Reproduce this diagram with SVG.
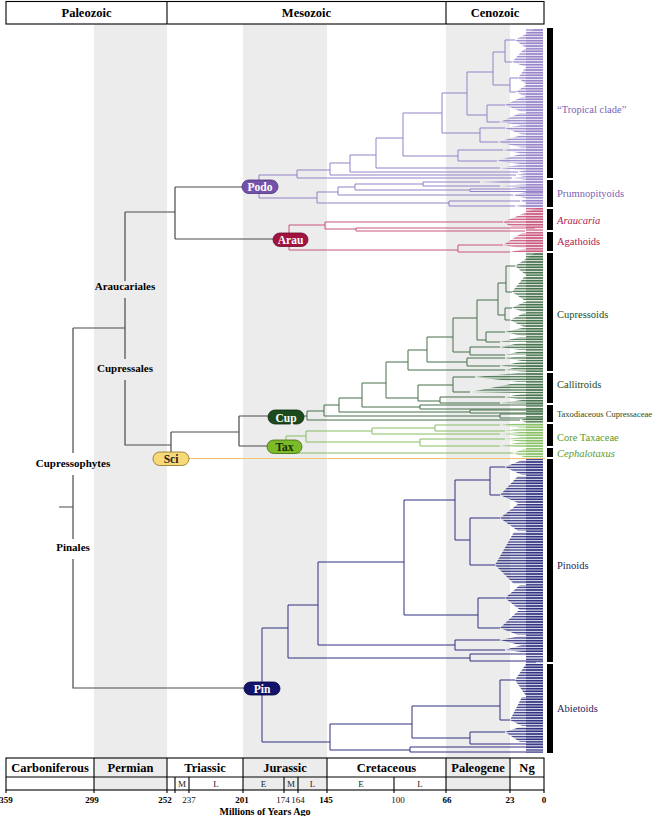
<svg xmlns="http://www.w3.org/2000/svg" width="653" height="816" viewBox="0 0 653 816">
<style>
text{font-family:'Liberation Serif','Times New Roman',serif}
.hd{font-size:12.5px;font-weight:bold;text-anchor:middle;fill:#000}
.sub{font-size:9px;text-anchor:middle;fill:#222}
.num{font-size:9px;text-anchor:middle;fill:#111}
.numb{font-size:9px;font-weight:bold;text-anchor:middle;fill:#000}
.cl{font-size:11px;font-weight:bold;text-anchor:middle;fill:#000}
.lab{font-size:10.5px}
.bt{font-size:11.5px;font-weight:bold;text-anchor:middle}
.band{fill:#ececec}
.grid{stroke:#000;stroke-width:1.1;fill:none}
.bb{stroke:#4a4a4a;stroke-width:1.2;fill:none}
.tp{stroke:#9481c8;stroke-width:1;fill:none}
.ta{stroke:#c8557a;stroke-width:1;fill:none}
.tc{stroke:#44704a;stroke-width:1;fill:none}
.tt{stroke:#86be62;stroke-width:1;fill:none}
.tn{stroke:#2e2e80;stroke-width:1;fill:none}
.fp{fill:url(#sp)}
.fa{fill:url(#sa)}
.fc{fill:url(#sc)}
.ft{fill:url(#st)}
.fn{fill:url(#sn)}
.bar{fill:#000}
</style>
<defs>
<pattern id="sp" width="8" height="1.6" patternUnits="userSpaceOnUse"><rect width="8" height="0.8" fill="#9481c8"/></pattern>
<pattern id="sa" width="8" height="1.6" patternUnits="userSpaceOnUse"><rect width="8" height="0.8" fill="#c8557a"/></pattern>
<pattern id="sc" width="8" height="1.6" patternUnits="userSpaceOnUse"><rect width="8" height="0.8" fill="#44704a"/></pattern>
<pattern id="st" width="8" height="1.6" patternUnits="userSpaceOnUse"><rect width="8" height="0.8" fill="#86be62"/></pattern>
<pattern id="sn" width="8" height="1.6" patternUnits="userSpaceOnUse"><rect width="8" height="0.8" fill="#2e2e80"/></pattern>
</defs>
<rect width="653" height="816" fill="#fff"/>
<g id="bands">
<rect class="band" x="94" y="24" width="73" height="766"/>
<rect class="band" x="243" y="24" width="84" height="766"/>
<rect class="band" x="446" y="24" width="64" height="766"/>
</g>
<g id="header">
<rect class="grid" x="6" y="1.5" width="538" height="22.5"/>
<path class="grid" d="M167,1.5V24M446,1.5V24"/>
<text class="hd" x="86.5" y="17">Paleozoic</text>
<text class="hd" x="306.5" y="17">Mesozoic</text>
<text class="hd" x="495" y="17">Cenozoic</text>
</g>
<g id="timescale">
<rect class="grid" x="6" y="758" width="538" height="32"/>
<path class="grid" d="M6,777H544M94,758V790M167,758V790M243,758V790M327,758V790M446,758V790M510,758V790"/>
<path class="grid" stroke-width="0.8" d="M175,777V790M189,777V790M284,777V790M298,777V790M394,777V790"/>
<path class="grid" stroke-width="0.8" d="M6,790V793M94,790V793M167,790V793M175,790V793M189,790V793M243,790V793M284,790V793M298,790V793M327,790V793M394,790V793M446,790V793M510,790V793M544,790V793"/>
<text class="hd" x="50" y="772">Carboniferous</text>
<text class="hd" x="130.5" y="772">Permian</text>
<text class="hd" x="205" y="772">Triassic</text>
<text class="hd" x="285" y="772">Jurassic</text>
<text class="hd" x="386.5" y="772">Cretaceous</text>
<text class="hd" x="478" y="772">Paleogene</text>
<text class="hd" x="527" y="772">Ng</text>
<text class="sub" x="182" y="787">M</text>
<text class="sub" x="216" y="787">L</text>
<text class="sub" x="263.5" y="787">E</text>
<text class="sub" x="291" y="787">M</text>
<text class="sub" x="312.5" y="787">L</text>
<text class="sub" x="361" y="787">E</text>
<text class="sub" x="420" y="787">L</text>
<text class="numb" x="6" y="803">359</text>
<text class="numb" x="92" y="803">299</text>
<text class="numb" x="165" y="803">252</text>
<text class="num" x="189" y="803">237</text>
<text class="numb" x="242" y="803">201</text>
<text class="num" x="283" y="803">174</text>
<text class="num" x="298" y="803">164</text>
<text class="numb" x="326" y="803">145</text>
<text class="num" x="398" y="803">100</text>
<text class="numb" x="447" y="803">66</text>
<text class="numb" x="510" y="803">23</text>
<text class="numb" x="544" y="803">0</text>
<text class="hd" x="265" y="814.5" style="font-size:10px">Millions of Years Ago</text>
</g>
<g id="connectors">
<path class="bb" d="M59,507H73M73,328V453M73,475V539M73,559V688H244M73,328H125M125,212V281M125,298V359M125,380V445H171M171,432V452M171,432H239M239,416V446M239,416H286M239,446H284M125,212H175M175,187V239M175,187H259M175,239H289"/>
<path stroke="#f3c56a" stroke-width="1" fill="none" d="M189,458.5H545"/>
<path class="tp" d="M259,175V198M259,175H297M297,170V178M297,178H512M297,170H330M330,163V175M330,175H516M330,163H350M350,155V172M350,172H518M350,155H376M376,138V168M376,168H500M376,138H403M403,113V156M403,156H458M458,150V161M458,150H503M458,161H497M403,113H442M442,93V133M442,133H480M480,128V142M480,128H505M480,142H498M442,93H467M467,72V115M467,115H487M487,105V122M487,105H505M487,122H500M467,72H493M493,52V85M493,52H505M505,40V62M505,40H515M505,62H512M493,85H510M510,78V92M510,78H518M510,92H516"/>
<path class="tp" d="M259,198H317M317,192V203M317,203H449M449,201V206M449,201H520M449,206H515M317,192H338M338,187V195M338,195H513M338,187H355M355,184V190M355,184H423M423,182V186M423,182H480M423,186H500M355,190H470M470,189V191.5M470,189H543M470,191.5H543"/>
<g>
<polygon class="fp" points="512,178 524,176.5 543,176.5 543,179.5 524,179.5"/>
<polygon class="fp" points="516,175 524,173.5 543,173.5 543,176.5 524,176.5"/>
<polygon class="fp" points="518,172 524,170.5 543,170.5 543,173.5 524,173.5"/>
<polygon class="fp" points="500,168 522,164.5 543,164.5 543,170 522,170"/>
<polygon class="fp" points="503,150 522,147.5 543,147.5 543,153.5 522,153.5"/>
<polygon class="fp" points="497,161 520,154 543,154 543,164 520,164"/>
<polygon class="fp" points="505,128 522,125 543,125 543,134.5 522,134.5"/>
<polygon class="fp" points="498,142 520,135.5 543,135.5 543,147 520,147"/>
<polygon class="fp" points="505,105 522,97 543,97 543,112 522,112"/>
<polygon class="fp" points="500,122 520,113 543,113 543,125 520,125"/>
<polygon class="fp" points="515,40 535,29 543,29 543,48 526,48"/>
<polygon class="fp" points="512,62 524,49 543,49 543,66 524,66"/>
<polygon class="fp" points="518,78 526,67 543,67 543,84 526,84"/>
<polygon class="fp" points="516,92 526,85 543,85 543,97 526,97"/>
<polygon class="fp" points="520,201 526,199.5 543,199.5 543,203 526,203"/>
<polygon class="fp" points="515,206 526,204 543,204 543,207.5 526,207.5"/>
<polygon class="fp" points="513,195 524,192.5 543,192.5 543,198 524,198"/>
<polygon class="fp" points="480,182 520,180 543,180 543,183.5 520,183.5"/>
<polygon class="fp" points="500,186 522,184.5 543,184.5 543,188 522,188"/>
<rect class="fp" x="526" y="29" width="17" height="178.5"/>
</g>
<path class="ta" d="M289,225V250M289,225H325M325,222V229M325,222H503M325,229H356M356,228V231M356,228H535M356,231H525M289,250H458M458,245V252M458,245H503M458,252H510"/>
<g>
<polygon class="fa" points="503,222 537,208 543,208 543,227 512,227"/>
<polygon class="fa" points="503,245 522,233 543,233 543,248 520,248"/>
<polygon class="fa" points="510,252 524,249 543,249 543,252.5 524,252.5"/>
<rect class="fa" x="526" y="208" width="17" height="44.5"/>
</g>
<path class="tc" d="M286,416H307M307,411V420M307,420H520M307,411H324M324,405V416M324,416H500M500,414V418M500,414H543M500,418H543M324,405H339M339,398V412M339,412H470M470,410V413M470,410H543M470,413H543M339,398H362M362,383V407M362,407H420M420,405V409M420,405H543M420,409H543M362,383H386M386,362V398M386,398H418M418,385V401M418,385H453M453,377V392M453,377H475M453,392H470M418,401H440M440,397V403M440,397H505M440,403H500M386,362H408M408,350V370M408,370H505M408,350H427M427,337V362M427,362H467M467,358V366M467,358H505M467,366H500M427,337H453M453,318V352M453,352H470M470,347V355M470,347H500M470,355H505M453,318H477M477,300V340M477,340H486M486,332V342M486,332H505M486,342H500M477,300H498M498,283V315M498,315H505M505,308V320M505,308H512M505,320H510M498,283H506M506,266V292M506,266H515M506,292H512"/>
<g>
<polygon class="fc" points="520,420 526,418.5 543,418.5 543,422.5 526,422.5"/>
<polygon class="fc" points="475,377 518,373 543,373 543,382 518,382"/>
<polygon class="fc" points="470,392 516,383 543,383 543,393 516,393"/>
<polygon class="fc" points="505,397 522,394 543,394 543,399.5 522,399.5"/>
<polygon class="fc" points="500,403 522,400 543,400 543,403.5 522,403.5"/>
<polygon class="fc" points="505,370 522,366 543,366 543,371.5 522,371.5"/>
<polygon class="fc" points="505,358 522,356 543,356 543,361 522,361"/>
<polygon class="fc" points="500,366 520,362 543,362 543,367 520,367"/>
<polygon class="fc" points="500,347 520,343 543,343 543,350 520,350"/>
<polygon class="fc" points="505,355 522,351 543,351 543,355 522,355"/>
<polygon class="fc" points="505,332 522,328 543,328 543,336 522,336"/>
<polygon class="fc" points="500,342 520,337 543,337 543,342 520,342"/>
<polygon class="fc" points="512,308 524,302 543,302 543,312 524,312"/>
<polygon class="fc" points="510,320 524,313 543,313 543,327 524,327"/>
<polygon class="fc" points="515,266 535,253 543,253 543,275 526,275"/>
<polygon class="fc" points="512,292 524,277 543,277 543,300 524,300"/>
<rect class="fc" x="526" y="253" width="17" height="169.5"/>
</g>
<path class="tt" d="M286,436V453M286,436H306M306,431V442M306,431H372M372,428V434M372,428H435M435,425V431M435,425H500M435,431H505M372,434H500M306,442H420M420,439V446M420,439H505M420,446H500M286,453H513"/>
<g>
<polygon class="ft" points="500,425 520,423 543,423 543,427.5 520,427.5"/>
<polygon class="ft" points="505,431 522,428 543,428 543,431.5 522,431.5"/>
<polygon class="ft" points="500,434 520,432 543,432 543,436 520,436"/>
<polygon class="ft" points="505,439 522,437 543,437 543,442 522,442"/>
<polygon class="ft" points="500,446 520,442.5 543,442.5 543,447 520,447"/>
<polygon class="ft" points="513,453 524,449 543,449 543,457 524,457"/>
<rect class="ft" x="526" y="423" width="17" height="34.5"/>
</g>
<path class="tn" d="M262,628V742M262,628H288M288,605V658M288,658H470M470,654V661M470,654H543M470,661H543M288,605H318M318,562V645M318,645H455M455,640V650M455,640H500M455,650H505M318,562H404M404,500V615M404,615H478M478,598V628M478,598H505M478,628H500M404,500H455M455,480V540M455,480H490M490,467V495M490,467H505M490,495H500M455,540H470M470,518V565M470,518H500M470,565H495M262,742H330M330,724V750M330,724H412M412,706V738M412,706H500M500,680V720M500,680H515M500,720H510M412,738H470M470,732V744M470,732H505M470,744H543M330,750H410M410,747V752M410,747H543M410,752H543"/>
<g>
<polygon class="fn" points="505,467 522,460 543,460 543,475 522,475"/>
<polygon class="fn" points="500,495 518,476 543,476 543,503 518,503"/>
<polygon class="fn" points="500,518 518,504 543,504 543,531 518,531"/>
<polygon class="fn" points="495,565 514,532 543,532 543,584 514,584"/>
<polygon class="fn" points="505,598 520,585 543,585 543,610 520,610"/>
<polygon class="fn" points="500,628 518,611 543,611 543,635 518,635"/>
<polygon class="fn" points="500,640 520,636 543,636 543,645 520,645"/>
<polygon class="fn" points="505,650 522,645 543,645 543,652 522,652"/>
<polygon class="fn" points="515,680 526,664 543,664 543,696 526,696"/>
<polygon class="fn" points="510,720 522,697 543,697 543,726 522,726"/>
<polygon class="fn" points="505,732 520,727 543,727 543,742 520,742"/>
<rect class="fn" x="526" y="459" width="17" height="293.5"/>
</g>
</g>
<g id="clade-labels">
<path stroke="#fff" stroke-width="1.2" d="M536,663H547"/>
<rect class="bar" x="547" y="28" width="6" height="150"/>
<rect class="bar" x="547" y="180" width="6" height="27"/>
<rect class="bar" x="547" y="209" width="6" height="21"/>
<rect class="bar" x="547" y="232" width="6" height="19"/>
<rect class="bar" x="547" y="253" width="6" height="118"/>
<rect class="bar" x="547" y="373" width="6" height="30"/>
<rect class="bar" x="547" y="405" width="6" height="17"/>
<rect class="bar" x="547" y="424" width="6" height="22"/>
<rect class="bar" x="547" y="448" width="6" height="9"/>
<rect class="bar" x="547" y="459" width="6" height="203"/>
<rect class="bar" x="547" y="664" width="6" height="89"/>
<text class="lab" x="557" y="113" fill="#7b62b5">“Tropical clade”</text>
<text class="lab" x="557" y="197" fill="#7b62b5">Prumnopityoids</text>
<text class="lab" x="557" y="224" fill="#b01a4e" font-style="italic">Araucaria</text>
<text class="lab" x="557" y="245" fill="#b01a4e">Agathoids</text>
<text class="lab" x="557" y="318" fill="#234a23">Cupressoids</text>
<text class="lab" x="557" y="388" fill="#234a23">Callitroids</text>
<text x="557" y="417" fill="#234a23" style="font-size:8.5px">Taxodiaceous Cupressaceae</text>
<text class="lab" x="557" y="441" fill="#5a9a2a">Core Taxaceae</text>
<text class="lab" x="557" y="456.5" fill="#5a9a2a" font-style="italic">Cephalotaxus</text>
<text class="lab" x="557" y="569" fill="#1c1c5e">Pinoids</text>
<text class="lab" x="557" y="712" fill="#1c1c5e">Abietoids</text>
</g>
<g id="group-labels">
<text class="cl" x="125" y="290">Araucariales</text>
<text class="cl" x="125" y="372">Cupressales</text>
<text class="cl" x="73" y="467">Cupressophytes</text>
<text class="cl" x="73" y="551">Pinales</text>
</g>
<g id="node-podo"><rect x="242" y="180" width="36" height="13.5" rx="6.75" fill="#7452ab" stroke="#4a2f7a" stroke-width="0.8"/><text class="bt" x="260" y="191" fill="#fff">Podo</text></g>
<g id="node-arau"><rect x="273" y="233" width="35" height="13.5" rx="6.75" fill="#a3123f" stroke="#6a0a28" stroke-width="0.8"/><text class="bt" x="290.5" y="244" fill="#fff">Arau</text></g>
<g id="node-cup"><rect x="268" y="410" width="36" height="14" rx="7" fill="#1d4a1d" stroke="#0d2a0d" stroke-width="0.8"/><text class="bt" x="286" y="421.5" fill="#fff">Cup</text></g>
<g id="node-tax"><rect x="267" y="440" width="35" height="13.5" rx="6.75" fill="#7cbb28" stroke="#3f6a12" stroke-width="0.8"/><text class="bt" x="284.5" y="451" fill="#1a2a05">Tax</text></g>
<g id="node-sci"><rect x="153" y="452" width="36" height="13.5" rx="6.75" fill="#f7d978" stroke="#8a7020" stroke-width="0.8"/><text class="bt" x="171" y="463" fill="#222">Sci</text></g>
<g id="node-pin"><rect x="244" y="682" width="36" height="13" rx="6.5" fill="#13136b" stroke="#000040" stroke-width="0.8"/><text class="bt" x="262" y="692.5" fill="#fff">Pin</text></g>
</svg>
